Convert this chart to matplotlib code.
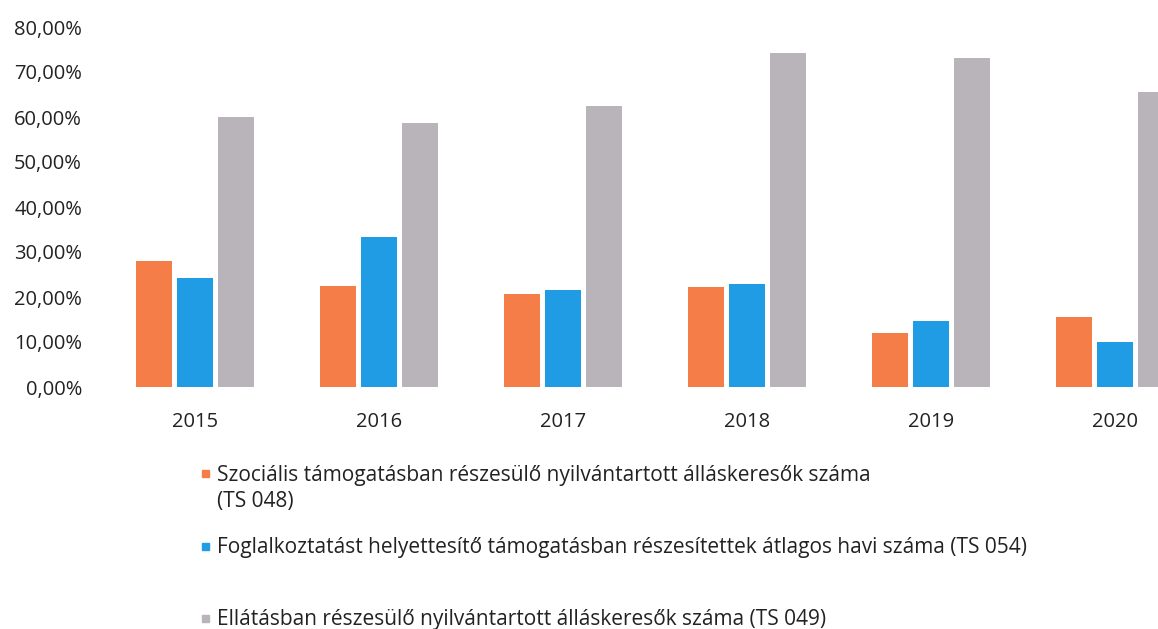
import matplotlib
matplotlib.use("Agg")
import matplotlib.pyplot as plt
from matplotlib.patches import Rectangle
from matplotlib.ticker import FuncFormatter
import numpy as np

years = ["2015", "2016", "2017", "2018", "2019", "2020"]
szocialis = [28.0, 22.4, 20.7, 22.2, 12.0, 15.6]
foglalkoztatas = [24.2, 33.3, 21.6, 22.9, 14.7, 10.0]
ellatas = [60.0, 58.7, 62.4, 74.2, 73.1, 65.6]
series_labels = [
    "Szociális támogatásban részesülő nyilvántartott álláskeresők száma\n(TS 048)",
    "Foglalkoztatást helyettesítő támogatásban részesítettek átlagos havi száma (TS 054)",
    "Ellátásban részesülő nyilvántartott álláskeresők száma (TS 049)",
]
colors = ["#F57D48", "#1F9CE4", "#B9B4B9"]

plt.rcParams['font.family'] = ['Open Sans', 'DejaVu Sans']

W, H = 1158, 629
fig = plt.figure(figsize=(W / 100, H / 100), dpi=100)

# axes in pixel coordinates
ax_left, ax_right = 105, 1158
ax_top, ax_bottom = 27, 387
ax = fig.add_axes([ax_left / W, 1 - ax_bottom / H, (ax_right - ax_left) / W, (ax_bottom - ax_top) / H])

x = np.arange(len(years))
step = 184.0
x0_px = 195
ax.set_xlim((ax_left - x0_px) / step, (ax_right - x0_px) / step)
ax.set_ylim(0, 80)

bw = 0.198
off = 0.223
for i, (vals, c) in enumerate(zip([szocialis, foglalkoztatas, ellatas], colors)):
    ax.bar(x + (i - 1) * off, vals, width=bw, color=c, edgecolor='none')

ax.set_yticks(np.arange(0, 81, 10))
ax.yaxis.set_major_formatter(FuncFormatter(lambda v, p: f"{v:.2f}%".replace('.', ',')))
ax.set_xticks(x)
ax.set_xticklabels(years)
ax.tick_params(axis='both', length=0, labelsize=14.5, colors='#222222')
ax.tick_params(axis='x', pad=18)
ax.tick_params(axis='y', pad=16.5)
for s in ax.spines.values():
    s.set_visible(False)

# legend drawn manually: (centre y of each text line in pixels)
leg_line_centres = [[473, 499], [546], [618]]
tx = 217
cap_half = 7.5
for lab, c, centres in zip(series_labels, colors, leg_line_centres):
    yc = centres[0]
    fig.patches.append(Rectangle((202 / W, 1 - (yc + 3.5) / H), 7 / W, 7 / H,
                                 transform=fig.transFigure, color=c, figure=fig))
    for line, ly in zip(lab.split("\n"), centres):
        fig.text(tx / W, 1 - (ly + cap_half) / H, line, ha='left', va='baseline',
                 fontsize=15, color='#222222')

fig.savefig("out.png", dpi=100)
